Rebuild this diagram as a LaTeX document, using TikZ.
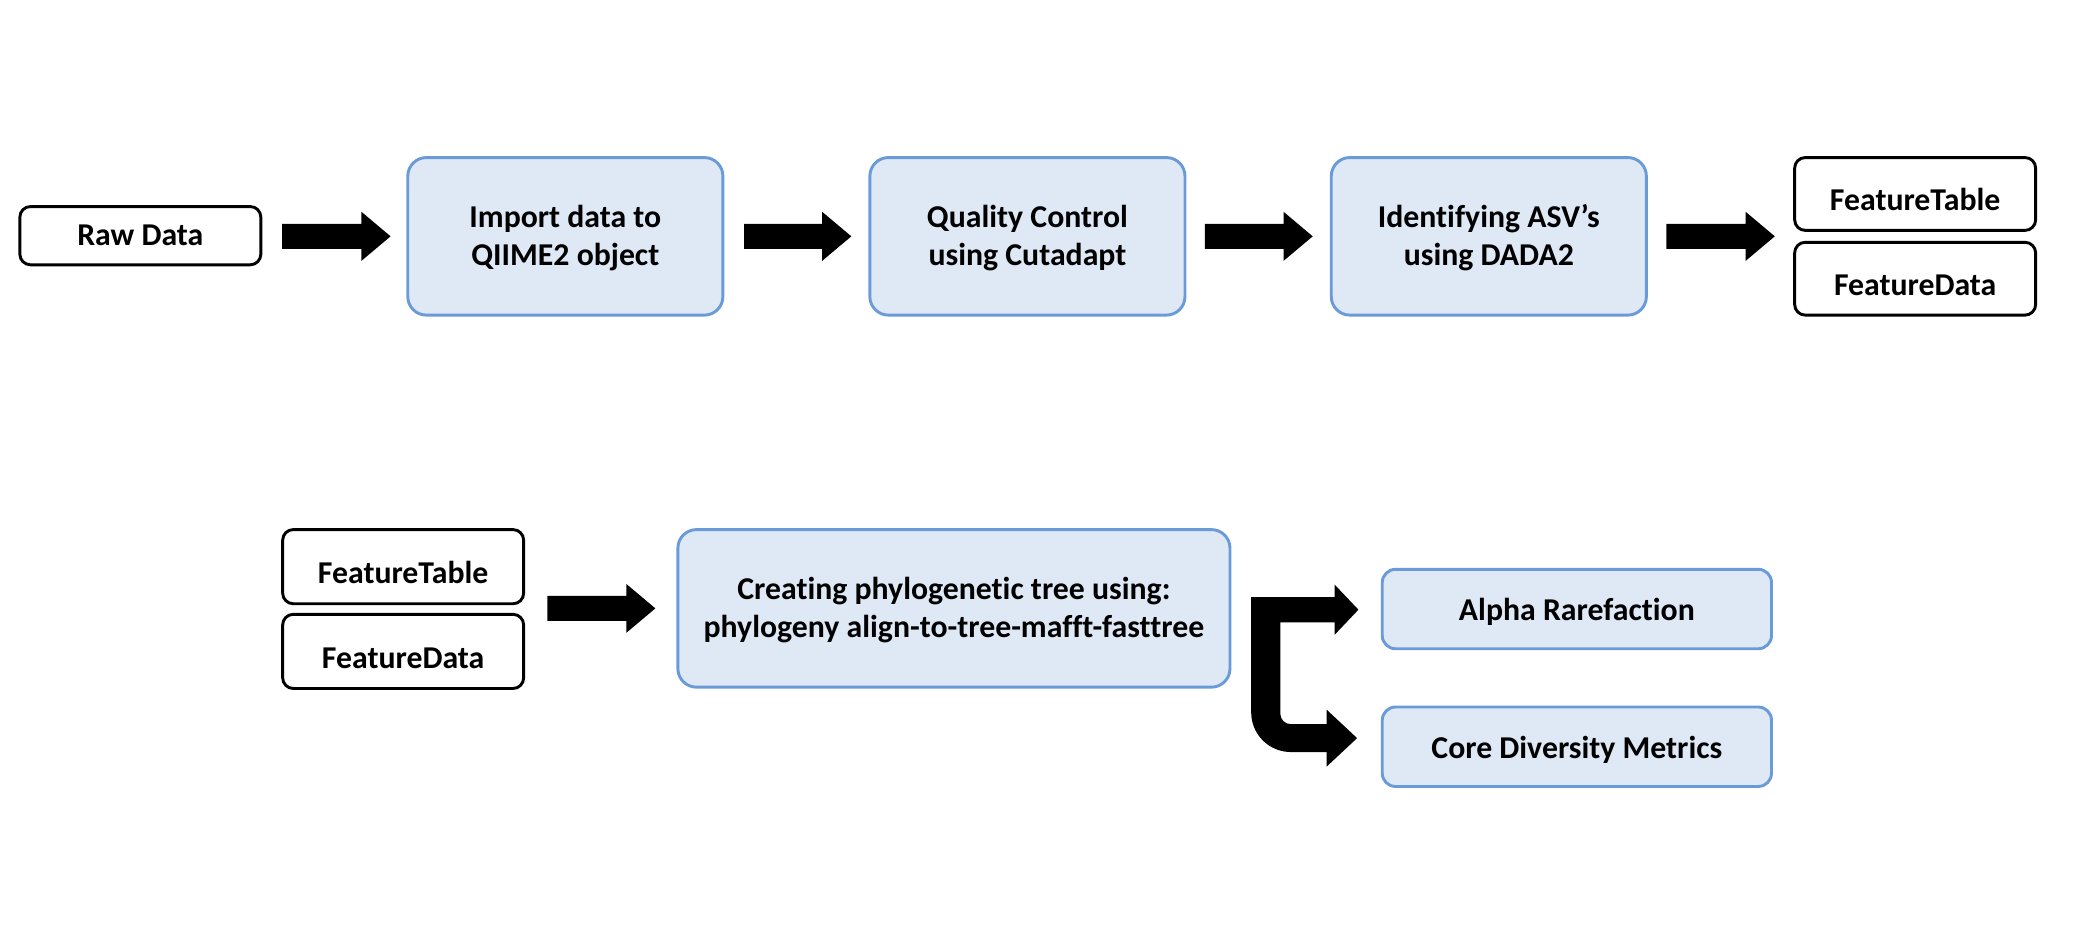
\documentclass[tikz,border=0pt]{standalone}
\usepackage{fontspec}
\setmainfont{Carlito}[Ligatures=NoCommon]
\usetikzlibrary{calc}
\definecolor{boxfill}{HTML}{DFE8F5}
\definecolor{boxline}{HTML}{6A9BD8}
\newcommand{\fatarr}[2]{\fill let \p1=(#1), \p2=(#2) in (\x1,\y2+9.5pt) -- (\x2-22pt,\y2+9.5pt) -- (\x2-22pt,\y2+18.5pt) -- (\x2,\y2) -- (\x2-22pt,\y2-18.5pt) -- (\x2-22pt,\y2-9.5pt) -- (\x1,\y2-9.5pt) -- cycle;}
\begin{document}
\begin{tikzpicture}[x=1pt,y=-1pt,
  txt/.style={font=\bfseries\fontsize{24}{29}\selectfont, align=center, inner sep=0pt, outer sep=0pt},
  blk/.style={txt, draw=black, line width=2.2pt, rounded corners=8pt, fill=white, minimum width=182pt},
  feat/.style={blk, text height=25.5pt, text depth=0pt},
  blu/.style={txt, draw=boxline, fill=boxfill, line width=2.2pt, rounded corners=14pt, text height=44.5pt, text depth=0pt},
  bigbox/.style={blu, minimum width=238pt, minimum height=119pt},
  smallbox/.style={blu, rounded corners=10pt, minimum width=294pt, minimum height=60pt, text height=17.5pt, text depth=0pt}]
\path[use as bounding box] (0,0) rectangle (1568,705);
% top row
\node[blk, minimum height=44pt] (raw) at (106,178) {Raw Data};
\node[bigbox] (imp) at (427,178.5) {Import data to\\QIIME2 object};
\node[bigbox] (qc) at (776,178.5) {Quality Control\\using Cutadapt};
\node[bigbox] (asv) at (1124.5,178.5) {Identifying ASV’s\\using DADA2};
\node[feat, minimum height=55pt] (ft1) at (1446.5,146.5) {FeatureTable};
\node[feat, minimum height=55pt] (fd1) at (1446.5,210.5) {FeatureData};
% bottom row
\node[feat, minimum height=56pt] (ft2) at (304.5,428) {FeatureTable};
\node[feat, minimum height=56pt] (fd2) at (304.5,492) {FeatureData};
\node[blu, minimum width=417pt, minimum height=119pt] (tree) at (720.5,459.5) {Creating phylogenetic tree using:\\phylogeny align-to-tree-mafft-fasttree};
\node[smallbox] (alpha) at (1191,460) {Alpha Rarefaction};
\node[smallbox] (core) at (1191,564) {Core Diversity Metrics};
% straight arrows
\fatarr{[xshift=16pt]raw.east}{[xshift=-13pt]imp.west}
\fatarr{[xshift=16pt]imp.east}{[xshift=-14pt]qc.west}
\fatarr{[xshift=15pt]qc.east}{[xshift=-14pt]asv.west}
\fatarr{[xshift=15pt]asv.east}{[xshift=-15pt]asv.east -| ft1.west}
\fatarr{[xshift=18pt]ft2.east}{[xshift=-17pt]tree.west}
% bent split arrow
\fill (945,451) -- (1008,451) -- (1008,441.5) -- (1026,460.5) -- (1008,479.5) -- (1008,470)
  -- (967,470) -- (967,539) .. controls (967,543.4) and (970.6,547) .. (975,547)
  -- (1002,547) -- (1002,536) -- (1025,557.5) -- (1002,579) -- (1002,568) -- (975,568)
  .. controls (958.4,568) and (945,554.6) .. (945,538) -- cycle;
\end{tikzpicture}
\end{document}
